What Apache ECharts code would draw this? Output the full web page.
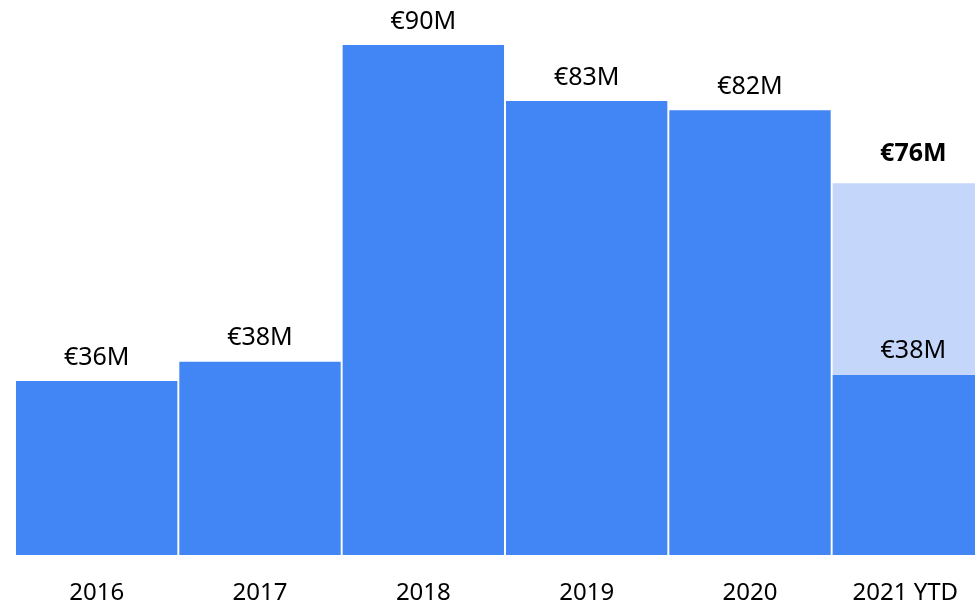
<!DOCTYPE html>
<html>
<head>
<meta charset="utf-8">
<script src="https://cdn.jsdelivr.net/npm/echarts@6/dist/echarts.min.js"></script>
<style>html,body{margin:0;padding:0;background:#fff}#c{width:975px;height:605px}</style>
</head>
<body>
<div id="c"></div>
<script>
const categories = ['2016', '2017', '2018', '2019', '2020', '2021 YTD'];
// bar heights
const baseValues = [30.7, 34.1, 90, 80.1, 78.5, 31.8];
const ytdExtra = [null, null, null, null, null, 33.8];
// value labels as printed
const baseLabels = ['€36M', '€38M', '€90M', '€83M', '€82M', '€38M'];
const totalLabels = ['', '', '', '', '', '€76M'];

const font = 'Noto Sans';
const chart = echarts.init(document.getElementById('c'), null, {renderer: 'canvas'});
chart.setOption({
  animation: false,
  grid: {left: 15, top: 45, bottom: 50, right: -20, containLabel: false, outerBoundsMode: 'none'},
  xAxis: {
    type: 'category',
    data: categories,
    axisLine: {show: false},
    axisTick: {show: false},
    axisLabel: {
      interval: 0, hideOverlap: false,
      color: '#000', fontFamily: font, fontSize: 24, margin: 26,
      formatter: (v, i) => i === categories.length - 1 ? '{s|' + v + '}' : v,
      rich: {s: {color: '#000', fontFamily: font, fontSize: 24, padding: [0, 16, 0, 0]}}
    }
  },
  yAxis: {type: 'value', min: 0, max: 90, show: false, splitLine: {show: false}},
  series: [
    {
      type: 'bar', stack: 'a', data: baseValues, barCategoryGap: '1.2%',
      itemStyle: {color: '#4285F4'},
      label: {
        show: true, position: 'top', distance: 11,
        color: '#000', fontFamily: font, fontSize: 25,
        formatter: p => baseLabels[p.dataIndex]
      }
    },
    {
      type: 'bar', stack: 'a', data: ytdExtra, barCategoryGap: '1.2%',
      itemStyle: {color: '#C4D7FB'},
      label: {
        show: true, position: 'top', distance: 17,
        color: '#000', fontFamily: font, fontSize: 25, fontWeight: 'bold',
        formatter: p => totalLabels[p.dataIndex]
      }
    }
  ]
});
</script>
</body>
</html>
